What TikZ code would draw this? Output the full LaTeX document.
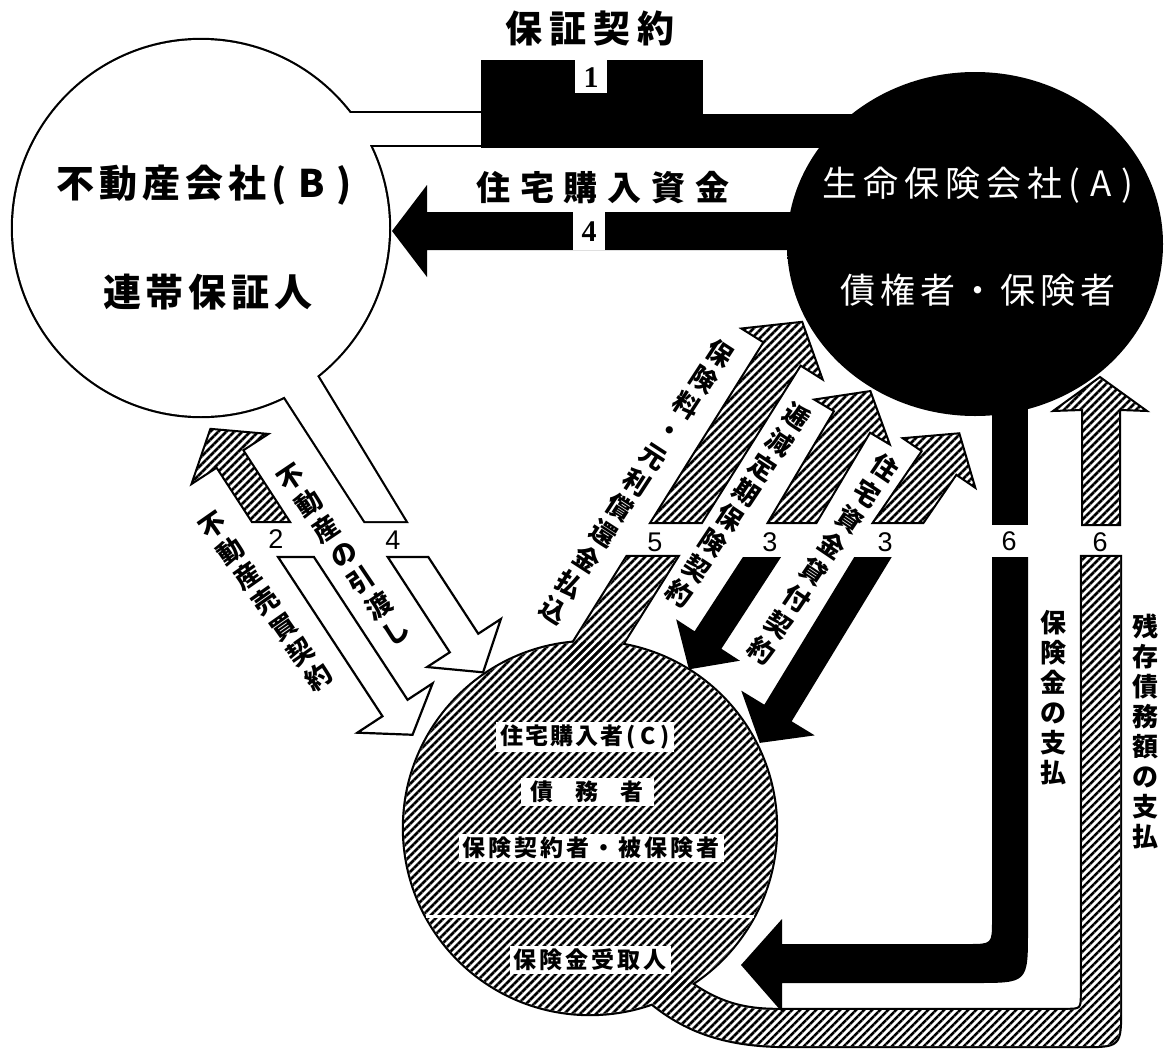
\documentclass[tikz,border=0pt]{standalone}
\usepackage{fontspec}
\usetikzlibrary{patterns.meta}
\newfontfamily\jp{Noto Sans CJK JP}
\newfontfamily\lsans{Liberation Sans}
\newfontfamily\lserif{Liberation Serif}
\makeatletter
\newcommand\spc[2]{\def\spc@g{\kern#1}\spc@i#2\relax}
\def\spc@i#1{\ifx\relax#1\else#1\expandafter\spc@j\fi}
\def\spc@j#1{\ifx\relax#1\else\spc@g#1\expandafter\spc@j\fi}
\newcommand\vt[2]{\vbox{\baselineskip=#1\lineskiplimit=-\maxdimen\lineskip=0pt\vt@i#2\relax}}
\def\vt@i#1{\ifx\relax#1\else\hbox to 1em{\hss#1\hss}\expandafter\vt@i\fi}
\makeatother
% fat arrow: style, tail centre (horizontal cut), head-base centre, shaft half width, head half width, head length
\newcommand\fatarrow[8]{%
  \pgfmathsetmacro\fdx{(#4-(#2))/10}%
  \pgfmathsetmacro\fdy{(#5-(#3))/10}%
  \pgfmathsetmacro\fL{sqrt((\fdx)*(\fdx)+(\fdy)*(\fdy))}%
  \pgfmathsetmacro\fux{\fdx/\fL}%
  \pgfmathsetmacro\fuy{\fdy/\fL}%
  \pgfmathsetmacro\fs{(\fuy>0)?1:-1}%
  \pgfmathsetmacro\fnx{-\fuy*\fs}%
  \pgfmathsetmacro\fny{\fux*\fs}%
  \pgfmathsetmacro\fth{#6/abs(\fuy)}%
  \path[#1] ({#2-\fth},#3) -- ({#4+#6*\fnx},{#5+#6*\fny}) -- ({#4+#7*\fnx},{#5+#7*\fny})
    -- ({#4+#8*\fux},{#5+#8*\fuy}) -- ({#4-#7*\fnx},{#5-#7*\fny})
    -- ({#4-#6*\fnx},{#5-#6*\fny}) -- ({#2+\fth},#3) -- cycle;}
\def\looppath{(1082,557) -- (1120,557) -- (1120,1008) .. controls (1120,1046) .. (1082,1046)
  -- (790,1046) .. controls (735,1046) and (690,1036) .. (648,1000) -- (680,975)
  .. controls (715,1004) and (745,1010) .. (778,1010) -- (1064,1010) .. controls (1082,1010) .. (1082,992) -- cycle}
\pgfdeclarehorizontalshading{Ashade}{100bp}{color(0bp)=(black); color(78bp)=(black); color(100bp)=(black!55)}
\begin{document}
\begin{tikzpicture}[x=1pt,y=-1pt,
  hatchpat/.style={pattern={Lines[angle=45,distance=5.657pt,line width=2.5pt]}},
  bo/.style={draw=black,line width=4.4pt},
  bw/.style={fill=white},
  hu1/.style={draw=black,line width=4.4pt},
  hu2/.style={fill=white},
  hu3/.style={hatchpat},
  hatch/.style={preaction={fill=white},hatchpat,draw=black,line width=2pt},
  warrow/.style={fill=white,draw=black,line width=2.2pt},
  barrow/.style={fill=black},
  cbox/.style={fill=white,inner xsep=4pt,inner ysep=3pt,font=\jp\bfseries\fontsize{23}{26}\selectfont},
  lbl/.style={font=\jp\bfseries\fontsize{26}{28}\selectfont,inner sep=0pt},
  num/.style={font=\lsans\fontsize{27}{30}\selectfont,inner sep=0pt},
  snum/.style={font=\lserif\bfseries\fontsize{30}{32}\selectfont,inner sep=0pt},
  big/.style={inner sep=0pt,font=\jp\bfseries\fontsize{38}{42}\selectfont}]
\useasboundingbox[fill=white] (0,0) rectangle (1168,1050);
\coordinate (A) at (975,244);
\coordinate (B) at (201,228);
\coordinate (C) at (590,828);

% ---- B (white circle with stems)
\path[bo] (B) circle[radius=188];
\path[bo] (300,113) rectangle (490,145);
\path[bo] (365,521) -- (405,521) -- (280,315) -- (250,343) -- cycle;
\path[bw] (B) circle[radius=188];
\path[bw] (300,113) rectangle (490,145);
\path[bw] (365,521) -- (405,521) -- (280,315) -- (250,343) -- cycle;

% ---- black box, band, A circle, arrow 4
\fill (481,60) rectangle (703,148);
\fill (700,114) rectangle (880,148);
\shade[shading=Ashade] (A) ellipse[x radius=188,y radius=172];
\fill (850,212) -- (427,212) -- (427,185) -- (392,231) -- (427,277) -- (427,250) -- (850,250) -- cycle;
\fill (992,380) rectangle (1028,525);
\fill[white] (575,59) rectangle (607,93);
\fill[white] (573,212) rectangle (605,250);
\node[snum] (s1) at (591,78) {1};
\node[snum] (s4) at (589,232) {4};

% ---- C (hatched circle with loop and stem)
\path[hu1] (C) circle[radius=186];
\path[hu1] \looppath;
\fatarrow{hu1}{652}{557}{580}{672}{21}{21}{0}
\path[hu2] (C) circle[radius=186];
\path[hu2] \looppath;
\fatarrow{hu2}{652}{557}{580}{672}{21}{21}{0}
\path[hu3] (C) circle[radius=186];
\path[hu3] \looppath;
\fatarrow{hu3}{652}{557}{580}{672}{21}{21}{0}
\draw[white,line width=3pt] (426,916) -- (754,916);

% ---- hatched arrows
\fatarrow{hatch}{271}{522}{230}{459}{16}{46}{36}
\fatarrow{hatch}{676}{523}{782}{354}{22}{48}{38}
\fatarrow{hatch}{792}{523}{852}{422}{21}{44}{36}
\fatarrow{hatch}{898}{523}{939}{463}{21}{44}{36}
\path[hatch] (1082,525) -- (1120,525) -- (1120,410) -- (1147,411) -- (1100,377) -- (1053,411) -- (1082,410) -- cycle;

% ---- white arrows
\fatarrow{warrow}{296}{557}{395}{708}{15}{45}{32}
\fatarrow{warrow}{408}{557}{464}{643}{17}{44}{35}

% ---- black arrows
\fatarrow{barrow}{762}{557}{708}{640}{16}{38}{35}
\fatarrow{barrow}{873}{557}{778}{713}{16}{43}{35}
\fill (992,557) -- (1028,557) -- (1028,930) .. controls (1028,983) .. (975,983) -- (782,983) -- (782,1012)
  -- (741,965) -- (782,919) -- (782,944) -- (968,944) .. controls (992,944) .. (992,920) -- cycle;

% ---- texts
\node[big,font=\jp\bfseries\fontsize{37}{40}\selectfont] (title) at (590,28) {\spc{7pt}{保証契約}};
\node[big] (b1) at (204,185) {\spc{5pt}{不動産会社}\kern5pt(\kern12pt B\kern12pt)};
\node[big] (b2) at (208,292) {\spc{5pt}{連帯保証人}};
\node[big,font=\jp\bfseries\fontsize{34}{38}\selectfont] (fund) at (603,188) {\spc{10pt}{住宅購入資金}};
\node[inner sep=0pt,text=white,font=\jp\fontsize{35}{38}\selectfont] (a1) at (978,185) {\spc{6pt}{生命保険会社}\kern6pt(\kern10pt A\kern10pt)};
\node[inner sep=0pt,text=white,font=\jp\fontsize{35}{38}\selectfont] (a2) at (978,290) {\spc{5pt}{債権者・保険者}};

\node[cbox] (c1) at (585,737) {\spc{2pt}{住宅購入者}\kern3pt(\kern5pt C\kern5pt)};
\node[cbox,inner xsep=10pt] (c2) at (587,792) {\spc{22pt}{債務者}};
\node[cbox] (c3) at (591,848) {\spc{3pt}{保険契約者・被保険者}};
\node[cbox] (c4) at (590,960) {\spc{3pt}{保険金受取人}};

\node[lbl,rotate=34] (t1) at (344,555) {\vt{31.3pt}{不動産の引渡し}};
\node[lbl,rotate=35] (t2) at (266,602) {\vt{30.9pt}{不動産売買契約}};
\node[lbl,rotate=-33] (t3) at (637,482) {\vt{30.6pt}{保険料・元利償還金払込}};
\node[lbl,rotate=-33.5] (t4) at (738,505) {\vt{30.2pt}{逓減定期保険契約}};
\node[lbl,rotate=-34] (t5) at (823,559) {\vt{31.4pt}{住宅資金貸付契約}};
\node[lbl] (t6) at (1053,698) {\vt{30pt}{保険金の支払}};
\node[lbl] (t7) at (1145,731) {\vt{30pt}{残存債務額の支払}};

\node[num] (n2) at (276,539) {2};
\node[num] (n4) at (393,540) {4};
\node[num] (n5) at (655,542) {5};
\node[num] (n3a) at (770,542) {3};
\node[num] (n3b) at (885,542) {3};
\node[num] (n6a) at (1009,541) {6};
\node[num] (n6b) at (1100,542) {6};
\end{tikzpicture}
\end{document}
